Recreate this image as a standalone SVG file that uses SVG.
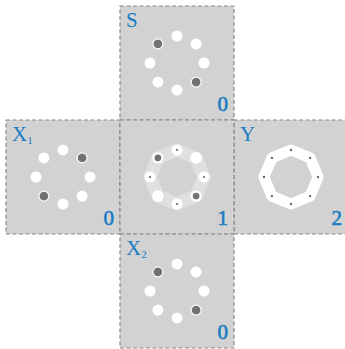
<svg xmlns="http://www.w3.org/2000/svg" width="345" height="349" viewBox="0 0 345 349">
<style>
.sq{fill:#d2d2d2;stroke:#8a8a8a;stroke-width:1.2;stroke-dasharray:4 2.5}
.w{fill:#ffffff}
.d{fill:#727272;stroke:#ffffff;stroke-width:1.2}
.dc{fill:#727272;stroke:#ffffff;stroke-width:2.4}
.t{fill:#6a6a6a}
text{font-family:'Liberation Serif','Times New Roman',serif;font-size:21px;fill:#1b7cc2}
.sub{font-size:11px}
.num{text-anchor:end;stroke:#1b7cc2;stroke-width:0.6}
</style>
<defs>
<g id="ring8">
<circle class="w" cx="27" cy="0" r="5.5"/>
<circle class="w" cx="0" cy="-27" r="5.5"/>
<circle class="w" cx="-27" cy="0" r="5.5"/>
<circle class="w" cx="0" cy="27" r="5.5"/>
</g>
</defs>
<g id="S">
<rect class="sq" x="120" y="6" width="114" height="114"/>
<g transform="translate(177,63)">
<use href="#ring8"/>
<circle class="w" cx="19.1" cy="-19.1" r="5.5"/>
<circle class="d" cx="-19.1" cy="-19.1" r="5"/>
<circle class="w" cx="-19.1" cy="19.1" r="5.5"/>
<circle class="d" cx="19.1" cy="19.1" r="5"/>
</g>
<text x="126" y="27">S</text>
<text class="num" x="228" y="111">0</text>
</g>
<g id="X1">
<rect class="sq" x="6" y="120" width="114" height="114"/>
<g transform="translate(63,177)">
<use href="#ring8"/>
<circle class="d" cx="19.1" cy="-19.1" r="5"/>
<circle class="w" cx="-19.1" cy="-19.1" r="5.5"/>
<circle class="d" cx="-19.1" cy="19.1" r="5"/>
<circle class="w" cx="19.1" cy="19.1" r="5.5"/>
</g>
<text x="12" y="141">X<tspan class="sub" dy="3">1</tspan></text>
<text class="num" x="114" y="225">0</text>
</g>
<g id="Y">
<rect class="sq" x="234" y="120" width="114" height="114"/>
<g transform="translate(291,177)">
<polygon points="27,0 19.1,-19.1 0,-27 -19.1,-19.1 -27,0 -19.1,19.1 0,27 19.1,19.1" fill="none" stroke="#ffffff" stroke-width="11" stroke-linejoin="round"/>
<circle class="t" cx="27" cy="0" r="1.2"/>
<circle class="t" cx="19.1" cy="-19.1" r="1.2"/>
<circle class="t" cx="0" cy="-27" r="1.2"/>
<circle class="t" cx="-19.1" cy="-19.1" r="1.2"/>
<circle class="t" cx="-27" cy="0" r="1.2"/>
<circle class="t" cx="-19.1" cy="19.1" r="1.2"/>
<circle class="t" cx="0" cy="27" r="1.2"/>
<circle class="t" cx="19.1" cy="19.1" r="1.2"/>
</g>
<text x="240" y="141">Y</text>
<text class="num" x="342" y="225">2</text>
</g>
<g id="C">
<rect class="sq" x="120" y="120" width="114" height="114"/>
<g transform="translate(177,177)">
<polygon points="27,0 19.1,-19.1 0,-27 -19.1,-19.1 -27,0 -19.1,19.1 0,27 19.1,19.1" fill="none" stroke="#e0e0e0" stroke-width="13"/>
<use href="#ring8"/>
<circle class="w" cx="19.1" cy="-19.1" r="5.8"/>
<circle class="dc" cx="-19.1" cy="-19.1" r="4.5"/>
<circle class="w" cx="-19.1" cy="19.1" r="5.8"/>
<circle class="dc" cx="19.1" cy="19.1" r="4.5"/>
<circle class="t" cx="27" cy="0" r="1.1"/>
<circle class="t" cx="0" cy="-27" r="1.1"/>
<circle class="t" cx="-27" cy="0" r="1.1"/>
<circle class="t" cx="0" cy="27" r="1.1"/>
</g>
<text class="num" x="228" y="225">1</text>
</g>
<g id="X2">
<rect class="sq" x="120" y="234" width="114" height="114"/>
<g transform="translate(177,291)">
<use href="#ring8"/>
<circle class="w" cx="19.1" cy="-19.1" r="5.5"/>
<circle class="d" cx="-19.1" cy="-19.1" r="5"/>
<circle class="w" cx="-19.1" cy="19.1" r="5.5"/>
<circle class="d" cx="19.1" cy="19.1" r="5"/>
</g>
<text x="126" y="255">X<tspan class="sub" dy="3">2</tspan></text>
<text class="num" x="228" y="339">0</text>
</g>
<g id="connectors"/>
</svg>
